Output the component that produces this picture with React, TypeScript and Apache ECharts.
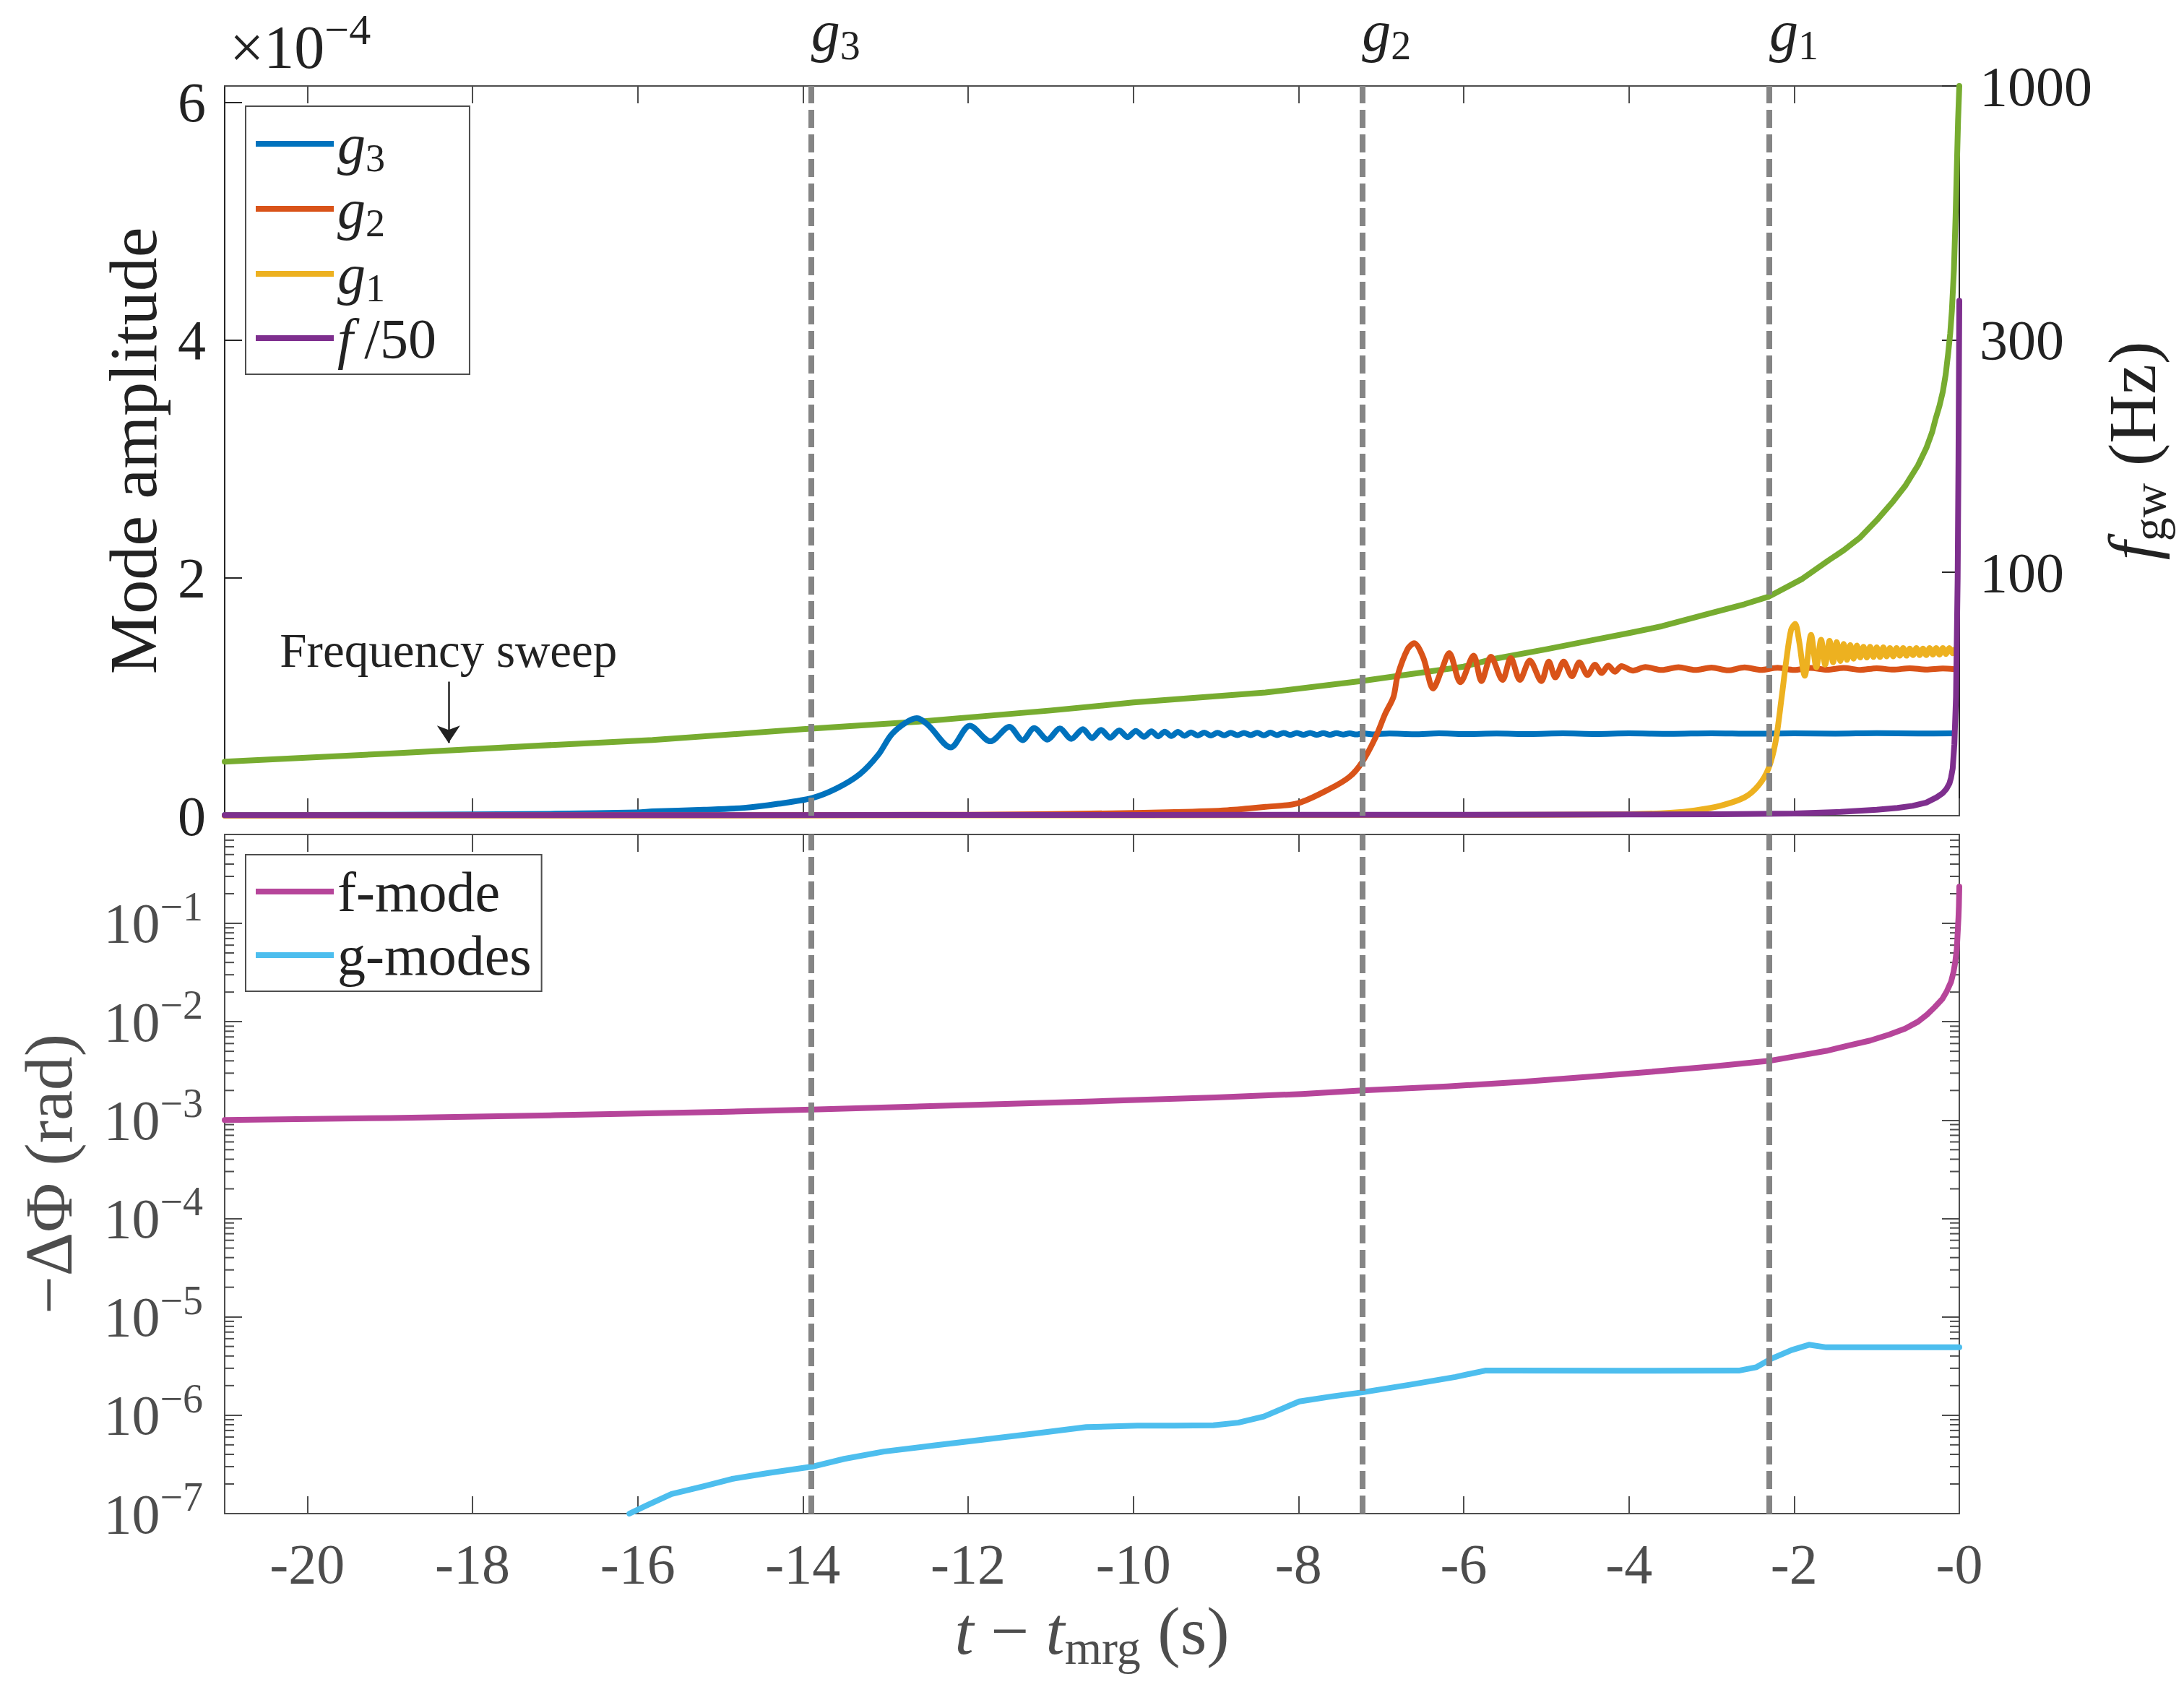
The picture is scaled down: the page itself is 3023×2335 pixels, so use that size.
import { useEffect, useRef } from 'react';
import * as echarts from 'echarts';

const SERIF = '"Liberation Serif", "DejaVu Serif", serif';
const INK = '#222222';
const AXIS_DARK = '#262626';
const AXIS_GRAY = '#4d4d4d';
const DASH_GRAY = '#858585';

// time axis (s)
const tMin = -21;
const tMax = 0;
const xTicks = [-20, -18, -16, -14, -12, -10, -8, -6, -4, -2, 0];
const xTickLabels = ['-20', '-18', '-16', '-14', '-12', '-10', '-8', '-6', '-4', '-2', '-0'];

// top panel axes
const ampMax = 6.136;
const ampTicks = [0, 2, 4, 6];
const freqMin = 31.6;
const freqMax = 1000;
const freqTicks = [100, 300, 1000];

// bottom panel axis
const phaseMin = 1e-7;
const phaseMax = 0.8;
const phaseTicks = [1e-7, 1e-6, 1e-5, 1e-4, 1e-3, 1e-2, 1e-1];
const phaseMinorTicks = [-7, -6, -5, -4, -3, -2, -1]
  .flatMap((e) => [2, 3, 4, 5, 6, 7, 8, 9].map((m) => m * 10 ** e))
  .filter((v) => v < phaseMax);

// resonance crossing times
const modeTimes = [-13.9, -7.23, -2.3];
const modeSubs = ['3', '2', '1'];

// frequency sweep annotation
const sweepT = -18.29;
const sweepTail = 59.6;
const sweepTip = 44.6;

// mode amplitudes (x 1e-4)
const g3Amp: [number, number][] = [
  [-21, 0.004], [-19, 0.008], [-17, 0.016], [-16, 0.028], [-15.82, 0.036], [-15.2, 0.05],
  [-14.71, 0.066], [-14.3, 0.1], [-13.89, 0.148], [-13.59, 0.23], [-13.31, 0.35], [-13.09, 0.51],
  [-12.93, 0.68], [-12.76, 0.78], [-12.62, 0.82], [-12.48, 0.76], [-12.21, 0.574], [-11.98, 0.757],
  [-11.73, 0.625], [-11.5, 0.747], [-11.34, 0.635], [-11.2, 0.737], [-11.04, 0.64], [-10.89, 0.733],
  [-10.75, 0.646], [-10.61, 0.727], [-10.5, 0.652], [-10.39, 0.721], [-10.28, 0.656], [-10.17, 0.717],
  [-10.07, 0.66], [-9.97, 0.713], [-9.87, 0.664], [-9.78, 0.71], [-9.7, 0.667], [-9.62, 0.707],
  [-9.54, 0.67], [-9.46, 0.704], [-9.38, 0.672], [-9.3, 0.7], [-9.22, 0.675], [-9.14, 0.698],
  [-9.06, 0.674], [-8.98, 0.697], [-8.9, 0.676], [-8.82, 0.697], [-8.74, 0.677], [-8.66, 0.696],
  [-8.58, 0.678], [-8.5, 0.697], [-8.42, 0.676], [-8.34, 0.698], [-8.26, 0.678], [-8.18, 0.696],
  [-8.1, 0.679], [-8.02, 0.695], [-7.94, 0.68], [-7.86, 0.695], [-7.78, 0.68], [-7.7, 0.694],
  [-7.62, 0.681], [-7.54, 0.694], [-7.46, 0.682], [-7.38, 0.693], [-7.3, 0.683], [-7.22, 0.692],
  [-7.1, 0.684], [-6.9, 0.691], [-6.6, 0.685], [-6.3, 0.692], [-6.0, 0.686], [-5.6, 0.691],
  [-5.2, 0.686], [-4.8, 0.692], [-4.4, 0.687], [-4.0, 0.692], [-3.5, 0.688], [-3.0, 0.693],
  [-2.5, 0.689], [-2.0, 0.693], [-1.5, 0.69], [-1.0, 0.694], [-0.5, 0.691], [-0.06, 0.693],
];

const g2Amp: [number, number][] = [
  [-21, 0.002], [-16, 0.004], [-12, 0.008], [-10.25, 0.02], [-9.5, 0.03], [-8.86, 0.046],
  [-8.4, 0.074], [-8.01, 0.104], [-7.62, 0.226], [-7.38, 0.328], [-7.23, 0.45], [-7.07, 0.654],
  [-6.95, 0.857], [-6.85, 1.0], [-6.8, 1.18], [-6.68, 1.4], [-6.6, 1.45], [-6.49, 1.33],
  [-6.37, 1.07], [-6.27, 1.22], [-6.175, 1.367], [-6.04, 1.122], [-5.88, 1.346], [-5.785, 1.132],
  [-5.67, 1.336], [-5.53, 1.142], [-5.43, 1.326], [-5.32, 1.142], [-5.2, 1.305], [-5.06, 1.132],
  [-4.97, 1.295], [-4.89, 1.163], [-4.79, 1.295], [-4.69, 1.173], [-4.6, 1.29], [-4.5, 1.183],
  [-4.41, 1.27], [-4.33, 1.2], [-4.25, 1.262], [-4.17, 1.21], [-4.09, 1.258], [-3.95, 1.22],
  [-3.8, 1.25], [-3.6, 1.225], [-3.4, 1.248], [-3.2, 1.225], [-3.0, 1.245], [-2.8, 1.222],
  [-2.6, 1.247], [-2.4, 1.226], [-2.2, 1.244], [-2.0, 1.225], [-1.8, 1.243], [-1.6, 1.227],
  [-1.4, 1.242], [-1.2, 1.226], [-1.0, 1.24], [-0.8, 1.228], [-0.6, 1.24], [-0.4, 1.229],
  [-0.2, 1.238], [-0.06, 1.232],
];

const g1Amp: [number, number][] = [
  [-21, 0.001], [-10, 0.003], [-6, 0.006], [-4, 0.012], [-3.5, 0.025], [-3.2, 0.045],
  [-2.895, 0.083], [-2.6, 0.154], [-2.43, 0.255], [-2.31, 0.397], [-2.225, 0.619], [-2.153, 0.984],
  [-2.094, 1.309], [-2.037, 1.562], [-1.987, 1.613], [-1.94, 1.47], [-1.871, 1.177], [-1.795, 1.52],
  [-1.731, 1.248], [-1.673, 1.48], [-1.624, 1.27], [-1.571, 1.47], [-1.528, 1.29], [-1.484, 1.46],
  [-1.44, 1.3], [-1.4, 1.445], [-1.36, 1.31], [-1.32, 1.435], [-1.28, 1.32], [-1.24, 1.43],
  [-1.2, 1.33], [-1.16, 1.42], [-1.12, 1.33], [-1.08, 1.42], [-1.04, 1.335], [-1.0, 1.415],
  [-0.96, 1.335], [-0.92, 1.415], [-0.88, 1.34], [-0.84, 1.41], [-0.8, 1.34], [-0.76, 1.41],
  [-0.72, 1.345], [-0.68, 1.41], [-0.64, 1.345], [-0.6, 1.405], [-0.56, 1.35], [-0.52, 1.41],
  [-0.48, 1.35], [-0.44, 1.405], [-0.4, 1.35], [-0.36, 1.41], [-0.32, 1.355], [-0.28, 1.41],
  [-0.24, 1.355], [-0.2, 1.41], [-0.16, 1.36], [-0.12, 1.41], [-0.08, 1.365], [-0.06, 1.395],
];

const fOver50Amp: [number, number][] = [
  [-21, 0.004], [-15, 0.005], [-10, 0.006], [-6, 0.008], [-4, 0.01], [-2.9, 0.012],
  [-2, 0.018], [-1.44, 0.032], [-1.0, 0.05], [-0.75, 0.065], [-0.566, 0.083], [-0.4, 0.11],
  [-0.275, 0.154], [-0.2, 0.19], [-0.157, 0.224], [-0.12, 0.27], [-0.1, 0.32], [-0.08, 0.397],
  [-0.06, 0.6], [-0.04, 1.0], [-0.02, 2.0], [-0.01, 3.0], [0, 4.33],
];

// gravitational-wave frequency (Hz)
const fgwHz: [number, number][] = [
  [-21, 40.8], [-19, 42.4], [-17, 44.2], [-15.82, 45.2], [-14, 47.6], [-12.62, 49.3],
  [-11, 52.0], [-10, 54.0], [-8.4, 56.6], [-7.23, 59.8], [-6, 64.0], [-5.67, 66.2],
  [-5.0, 69.5], [-4.5, 72.2], [-4.0, 75.0], [-3.6, 77.5], [-3.0, 82.5], [-2.6, 86.0],
  [-2.31, 89.1], [-1.9, 97], [-1.585, 105.8], [-1.4, 111], [-1.2, 118], [-1.0, 128],
  [-0.8, 140], [-0.65, 151], [-0.5, 166], [-0.4, 180], [-0.33, 194], [-0.29, 206],
  [-0.24, 220], [-0.2, 235], [-0.165, 255], [-0.135, 282], [-0.11, 310], [-0.09, 345],
  [-0.065, 420], [-0.045, 540], [-0.03, 680], [-0.015, 850], [0, 1000],
];

// phase shift (rad)
const fModePhase: [number, number][] = [
  [-21, 1.0e-3], [-19, 1.05e-3], [-17, 1.12e-3], [-15, 1.21e-3], [-13.89, 1.28e-3], [-12, 1.42e-3],
  [-10.5, 1.55e-3], [-9, 1.7e-3], [-7.96, 1.84e-3], [-7.23, 2.0e-3], [-6.2, 2.2e-3], [-5.31, 2.44e-3],
  [-4.5, 2.75e-3], [-3.73, 3.1e-3], [-3, 3.5e-3], [-2.3, 4.0e-3], [-1.95, 4.5e-3], [-1.61, 5.05e-3],
  [-1.35, 5.7e-3], [-1.08, 6.43e-3], [-0.85, 7.4e-3], [-0.656, 8.5e-3], [-0.5, 1.0e-2], [-0.391, 1.18e-2],
  [-0.3, 1.4e-2], [-0.206, 1.7e-2], [-0.15, 2.05e-2], [-0.1, 2.54e-2], [-0.07, 3.2e-2], [-0.05, 4e-2],
  [-0.03, 5.5e-2], [-0.02, 8e-2], [-0.01, 0.115], [-0.005, 0.15], [0, 0.236],
];

const gModesPhase: [number, number][] = [
  [-16.1, 1.0e-7], [-15.9, 1.2e-7], [-15.59, 1.58e-7], [-15.2, 1.9e-7], [-14.86, 2.25e-7], [-14.4, 2.6e-7],
  [-13.89, 3.0e-7], [-13.5, 3.6e-7], [-13.02, 4.27e-7], [-12.4, 4.95e-7], [-11.79, 5.69e-7], [-11.2, 6.5e-7],
  [-10.57, 7.57e-7], [-9.95, 7.83e-7], [-9.5, 7.85e-7], [-9.03, 7.9e-7], [-8.73, 8.4e-7], [-8.42, 9.7e-7],
  [-7.99, 1.38e-6], [-7.6, 1.55e-6], [-7.225, 1.71e-6], [-6.64, 2.05e-6], [-6.1, 2.45e-6], [-5.74, 2.84e-6],
  [-5.42, 2.84e-6], [-4.1, 2.83e-6], [-2.67, 2.84e-6], [-2.456, 3.08e-6], [-2.27, 3.77e-6], [-2.03, 4.6e-6],
  [-1.82, 5.2e-6], [-1.61, 4.9e-6], [0, 4.9e-6],
];

const COLORS = {
  g3: '#0072BD',
  g2: '#D95319',
  g1: '#EDB120',
  f50: '#7E2F8E',
  fgw: '#77AC30',
  fMode: '#B6459A',
  gModes: '#4DBEEE',
};

const TICK_LEN = 24;
const MINOR_LEN = 13;
const LINE_W = 8;

const nearIndex = (arr: number[], v: number) => arr.findIndex((a) => Math.abs(a - v) < 1e-9 * Math.max(1, Math.abs(a)));

function axisTick(color: string, customValues: number[]) {
  return { show: true, inside: true, length: TICK_LEN, customValues, lineStyle: { color, width: 2 } };
}

function axisLine(color: string) {
  return { show: true, onZero: false, lineStyle: { color, width: 2 } };
}

function buildOption() {
  const legendRich = {
    i: { fontFamily: SERIF, fontStyle: 'italic', fontSize: 78, color: INK, lineHeight: 92 },
    r: { fontFamily: SERIF, fontSize: 78, color: INK, lineHeight: 92 },
    s: { fontFamily: SERIF, fontSize: 54, color: INK, lineHeight: 92, padding: [40, 0, 0, 0] },
  };
  const legendText: Record<string, string> = {
    g3: '{i|g}{s|3}',
    g2: '{i|g}{s|2}',
    g1: '{i|g}{s|1}',
    'f/50': '{i|f}{r|\u2009/50}',
    'f-mode': '{r|f-mode}',
    'g-modes': '{r|g-modes}',
  };
  const legendBase = {
    orient: 'vertical',
    left: 340,
    icon: 'rect',
    itemWidth: 108,
    itemHeight: 8,
    itemGap: -4,
    borderColor: AXIS_GRAY,
    borderWidth: 2,
    backgroundColor: '#ffffff',
    selectedMode: false,
    itemStyle: { borderWidth: 0 },
    formatter: (name: string) => legendText[name] ?? name,
    textStyle: { fontFamily: SERIF, fontSize: 78, color: INK, lineHeight: 92, rich: legendRich },
  };

  const nameRich = (color: string) => ({
    i: { fontFamily: SERIF, fontStyle: 'italic', fontSize: 94, color, lineHeight: 113 },
    s: { fontFamily: SERIF, fontSize: 66, color, lineHeight: 113, padding: [47, 0, 0, 0] },
  });

  const lineSeries = (
    name: string,
    data: [number, number][],
    color: string,
    xi: number,
    yi: number,
    smooth: number | boolean,
    extra = {},
  ) => ({
    type: 'line',
    name,
    data,
    xAxisIndex: xi,
    yAxisIndex: yi,
    showSymbol: false,
    symbol: 'none',
    smooth,
    color,
    itemStyle: { color },
    lineStyle: { color, width: LINE_W, cap: 'round', join: 'round' },
    emphasis: { disabled: true },
    silent: true,
    ...extra,
  });

  const modeLines = {
    silent: true,
    symbol: ['none', 'none'],
    label: { show: false },
    emphasis: { disabled: true },
    lineStyle: { color: DASH_GRAY, width: 8, type: [25, 9], opacity: 1 },
    data: modeTimes.map((t) => ({ xAxis: t })),
  };

  return {
    animation: false,
    backgroundColor: '#ffffff',
    grid: [
      { left: 311, top: 119, width: 2401, height: 1010, outerBoundsMode: 'none', containLabel: false },
      { left: 311, top: 1155, width: 2401, height: 940, outerBoundsMode: 'none', containLabel: false },
    ],
    legend: [
      { ...legendBase, top: 147, padding: [5, 46, 4, 14], data: ['g3', 'g2', 'g1', 'f/50'] },
      { ...legendBase, top: 1183, padding: [5, 14, 4, 14], data: ['f-mode', 'g-modes'] },
    ],
    graphic: [
      {
        type: 'text',
        left: 318,
        top: 10,
        silent: true,
        style: {
          text: '×10{p|−4}',
          fontFamily: SERIF,
          fontSize: 84,
          fill: INK,
          lineHeight: 110,
          rich: {
            p: { fontFamily: SERIF, fontSize: 60, fill: INK, lineHeight: 110, padding: [0, 0, 48, 0] },
          },
        },
      },
    ],
    xAxis: [
      {
        type: 'value', gridIndex: 0, position: 'bottom', min: tMin, max: tMax,
        axisLine: axisLine(AXIS_GRAY), axisTick: axisTick(AXIS_GRAY, xTicks),
        axisLabel: { show: false }, splitLine: { show: false },
      },
      {
        type: 'value', gridIndex: 0, position: 'top', min: tMin, max: tMax,
        axisLine: axisLine(AXIS_GRAY), axisTick: axisTick(AXIS_GRAY, xTicks),
        axisLabel: {
          show: true,
          customValues: modeTimes,
          margin: 28,
          align: 'left',
          formatter: (v: number) => `{i|g}{s|${modeSubs[nearIndex(modeTimes, v)] ?? ''}}`,
          rich: {
            i: { fontFamily: SERIF, fontStyle: 'italic', fontSize: 80, color: INK, lineHeight: 96 },
            s: { fontFamily: SERIF, fontSize: 56, color: INK, lineHeight: 96, padding: [40, 0, 0, 0] },
          },
        },
        splitLine: { show: false },
      },
      {
        type: 'value', gridIndex: 1, position: 'bottom', min: tMin, max: tMax,
        axisLine: axisLine(AXIS_GRAY), axisTick: axisTick(AXIS_GRAY, xTicks),
        axisLabel: {
          show: true,
          customValues: xTicks,
          margin: 30,
          fontFamily: SERIF,
          fontSize: 78,
          color: AXIS_GRAY,
          formatter: (v: number) => xTickLabels[nearIndex(xTicks, v)] ?? String(v),
        },
        splitLine: { show: false },
        name: '{i|t} − {i|t}{s|mrg} (s)',
        nameLocation: 'middle',
        nameGap: 105,
        nameMoveOverlap: false,
        nameTextStyle: { fontFamily: SERIF, fontSize: 94, color: AXIS_GRAY, lineHeight: 113, rich: nameRich(AXIS_GRAY) },
      },
      {
        type: 'value', gridIndex: 1, position: 'top', min: tMin, max: tMax,
        axisLine: axisLine(AXIS_GRAY), axisTick: axisTick(AXIS_GRAY, xTicks),
        axisLabel: { show: false }, splitLine: { show: false },
      },
    ],
    yAxis: [
      {
        type: 'value', gridIndex: 0, position: 'left', min: 0, max: ampMax,
        axisLine: axisLine(AXIS_DARK), axisTick: axisTick(AXIS_DARK, ampTicks),
        axisLabel: {
          show: true, customValues: ampTicks, margin: 26,
          fontFamily: SERIF, fontSize: 78, color: INK,
          formatter: (v: number) => String(Math.round(v)),
        },
        splitLine: { show: false },
        name: 'Mode amplitude',
        nameLocation: 'middle',
        nameRotate: 90,
        nameGap: 80,
        nameMoveOverlap: false,
        nameTextStyle: { fontFamily: SERIF, fontSize: 94, color: INK },
      },
      {
        type: 'log', logBase: 10, gridIndex: 0, position: 'right', min: freqMin, max: freqMax,
        axisLine: axisLine(AXIS_DARK), axisTick: axisTick(AXIS_DARK, freqTicks),
        axisLabel: {
          show: true, customValues: freqTicks, margin: 28,
          fontFamily: SERIF, fontSize: 78, color: INK,
          formatter: (v: number) => String(Math.round(v)),
        },
        splitLine: { show: false },
        name: '{i|f}{s|gw} (Hz)',
        nameLocation: 'middle',
        nameRotate: 90,
        nameGap: 182,
        nameMoveOverlap: false,
        nameTextStyle: { fontFamily: SERIF, fontSize: 94, color: INK, lineHeight: 113, rich: nameRich(INK) },
      },
      {
        type: 'log', logBase: 10, gridIndex: 1, position: 'left', min: phaseMin, max: phaseMax,
        axisLine: axisLine(AXIS_GRAY), axisTick: axisTick(AXIS_GRAY, phaseTicks),
        axisLabel: {
          show: true, customValues: phaseTicks, margin: 30,
          formatter: (v: number) => `{b|10}{p|−${Math.round(-Math.log10(v))}}`,
          rich: {
            b: { fontFamily: SERIF, fontSize: 78, color: AXIS_GRAY, lineHeight: 100 },
            p: { fontFamily: SERIF, fontSize: 56, color: AXIS_GRAY, lineHeight: 100, padding: [0, 0, 46, 0] },
          },
        },
        splitLine: { show: false },
        name: '−ΔΦ (rad)',
        nameLocation: 'middle',
        nameRotate: 90,
        nameGap: 197,
        nameMoveOverlap: false,
        nameTextStyle: { fontFamily: SERIF, fontSize: 94, color: AXIS_GRAY },
      },
      {
        type: 'log', logBase: 10, gridIndex: 1, position: 'right', min: phaseMin, max: phaseMax,
        axisLine: axisLine(AXIS_GRAY), axisTick: axisTick(AXIS_GRAY, phaseTicks),
        axisLabel: { show: false }, splitLine: { show: false },
      },
    ],
    series: [
      lineSeries('fgw', fgwHz, COLORS.fgw, 0, 1, false, {
        markLine: {
          silent: true,
          symbol: ['none', 'arrow'],
          symbolSize: 24,
          emphasis: { disabled: true },
          lineStyle: { color: INK, width: 2.5, type: 'solid' },
          label: {
            show: true, position: 'start', distance: 10,
            formatter: 'Frequency sweep', fontFamily: SERIF, fontSize: 67, color: INK,
          },
          data: [[{ coord: [sweepT, sweepTail] }, { coord: [sweepT, sweepTip] }]],
        },
      }),
      lineSeries('g3', g3Amp, COLORS.g3, 0, 0, 0.3, { markLine: modeLines }),
      lineSeries('g2', g2Amp, COLORS.g2, 0, 0, 0.3),
      lineSeries('g1', g1Amp, COLORS.g1, 0, 0, 0.3),
      lineSeries('f/50', fOver50Amp, COLORS.f50, 0, 0, false),
      lineSeries('f-mode', fModePhase, COLORS.fMode, 2, 2, false, { markLine: modeLines }),
      lineSeries('g-modes', gModesPhase, COLORS.gModes, 2, 2, false),
      {
        type: 'custom',
        name: 'minor ticks',
        xAxisIndex: 2,
        yAxisIndex: 2,
        silent: true,
        clip: false,
        z: 3,
        data: phaseMinorTicks.map((v) => [tMin, v]),
        renderItem: (params: any, api: any) => {
          const y = api.coord([tMin, api.value(1)])[1];
          const cs = params.coordSys;
          const style = { stroke: AXIS_GRAY, lineWidth: 2 };
          return {
            type: 'group',
            children: [
              { type: 'line', shape: { x1: cs.x, y1: y, x2: cs.x + MINOR_LEN, y2: y }, style },
              { type: 'line', shape: { x1: cs.x + cs.width, y1: y, x2: cs.x + cs.width - MINOR_LEN, y2: y }, style },
            ],
          };
        },
      },
    ],
  };
}

export default function App() {
  const chartRef = useRef<HTMLDivElement>(null);

  useEffect(() => {
    if (!chartRef.current) return;
    const chart = echarts.init(chartRef.current, undefined, { renderer: 'svg' });
    chart.setOption(buildOption() as any);
    return () => {
      chart.dispose();
    };
  }, []);

  return (
    <div
      ref={chartRef}
      style={{ position: 'fixed', left: 0, top: 0, width: 3023, height: 2335, background: '#ffffff' }}
    />
  );
}
